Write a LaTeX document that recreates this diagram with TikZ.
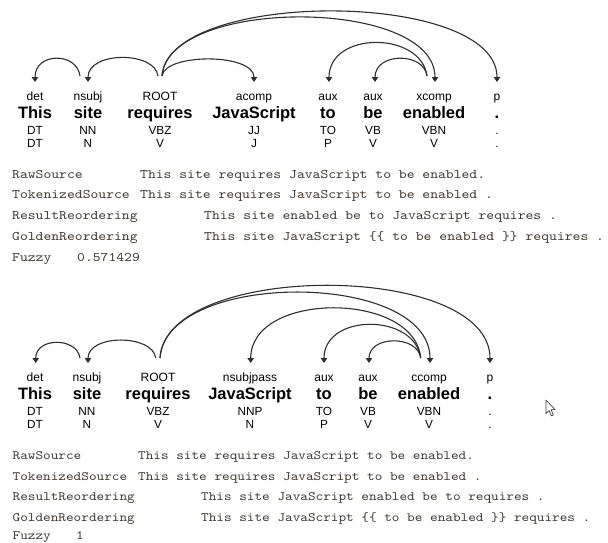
\documentclass[tikz,border=0pt]{standalone}
\usepackage{fontspec}
\setmainfont{Liberation Sans}
\newfontfamily\monof{lmmono10-regular.otf}[FakeStretch=1.14]
\usetikzlibrary{arrows.meta}
\definecolor{arcc}{HTML}{2E2E2E}
\definecolor{monoc}{HTML}{3E3630}
\begin{document}
\begin{tikzpicture}[x=1pt,y=-1pt,
  dep/.style={draw=arcc, line width=1.1pt, -{Triangle[width=6.5pt,length=5pt]}},
  lab/.style={anchor=base, inner sep=0pt, font=\fontsize{12}{14}\selectfont},
  wrd/.style={anchor=base, inner sep=0pt, font=\fontsize{16.5}{18}\selectfont\bfseries},
  tag/.style={anchor=base, inner sep=0pt, font=\fontsize{11.8}{14}\selectfont},
  monotop/.style={anchor=base west, inner sep=0pt, font=\fontsize{13.1}{15}\selectfont\monof, text=monoc},
  monobot/.style={anchor=base west, inner sep=0pt, font=\fontsize{12.75}{15}\selectfont\monof, text=monoc}]
\useasboundingbox (0,0) rectangle (608,542);

% ---------------- top parse ----------------
\foreach \i/\x/\w/\l/\p/\q in {1/35/This/det/DT/DT, 2/88/site/nsubj/NN/N, 3/160/requires/ROOT/VBZ/V,
  4/254/JavaScript/acomp/JJ/J, 5/328/to/aux/TO/P, 6/373/be/aux/VB/V, 7/434/enabled/xcomp/VBN/V, 8/497/./p/./.}{
  \node[lab] (tl\i) at (\x,100) {\l};
  \node[wrd] (tw\i) at (\x,118) {\w};
  \node[tag] (tp\i) at (\x,134) {\p};
  \node[tag] (tq\i) at (\x,147) {\q};
}
\coordinate (tsiteo) at (80,76);
\coordinate (tthisi) at (35,82);
\coordinate (treqa) at (158,76);
\coordinate (tsitei) at (88,82);
\coordinate (treqb) at (162,76);
\coordinate (tjsi) at (254,82);
\coordinate (teni) at (435,82);
\coordinate (tdoti) at (497,82);
\coordinate (teno) at (427,76);
\coordinate (ttoi) at (329,82);
\coordinate (tbei) at (375,82);

\draw[dep] (tsiteo) .. controls +(-3,-24) and +(0,-30) .. (tthisi);
\draw[dep] (treqa) .. controls +(-3,-25) and +(0,-31) .. (tsitei);
\draw[dep] (treqb) .. controls +(3,-23) and +(0,-29) .. (tjsi);
\draw[dep] (treqb) .. controls +(6,-79) and +(0,-85) .. (teni);
\draw[dep] (treqb) .. controls +(6,-87) and +(0,-93) .. (tdoti);
\draw[dep] (teno) .. controls +(-6,-45) and +(0,-51) .. (ttoi);
\draw[dep] (teno) .. controls +(-3,-24) and +(0,-30) .. (tbei);

% ---------------- top text block ----------------
\node[monotop] (r1a) at (12,178) {RawSource};
\node[monotop] (r1b) at (140,178) {This site requires JavaScript to be enabled.};
\node[monotop] (r2a) at (12,198.8) {TokenizedSource};
\node[monotop] (r2b) at (140,198.8) {This site requires JavaScript to be enabled .};
\node[monotop] (r3a) at (12,219.6) {ResultReordering};
\node[monotop] (r3b) at (204,219.6) {This site enabled be to JavaScript requires .};
\node[monotop] (r4a) at (12,240.4) {GoldenReordering};
\node[monotop] (r4b) at (204,240.4) {This site JavaScript \{\{ to be enabled \}\} requires .};
\node[monotop] (r5a) at (12,261.2) {Fuzzy};
\node[monotop] (r5b) at (77,261.2) {0.571429};

% ---------------- bottom parse ----------------
\foreach \i/\x/\w/\l/\p/\q in {1/35/This/det/DT/DT, 2/87/site/nsubj/NN/N, 3/158/requires/ROOT/VBZ/V,
  4/250/JavaScript/nsubjpass/NNP/N, 5/324/to/aux/TO/P, 6/368/be/aux/VB/V, 7/429/enabled/ccomp/VBN/V, 8/490/./p/./.}{
  \node[lab] (bl\i) at (\x,381) {\l};
  \node[wrd] (bw\i) at (\x,399) {\w};
  \node[tag] (bp\i) at (\x,415) {\p};
  \node[tag] (bq\i) at (\x,428) {\q};
}
\coordinate (bsiteo) at (80,358);
\coordinate (bthisi) at (35.7,363);
\coordinate (breqa) at (155.7,358);
\coordinate (bsitei) at (88,363);
\coordinate (breqb) at (160,358);
\coordinate (beni) at (430,363);
\coordinate (bdoti) at (490,363);
\coordinate (beno) at (420.7,358);
\coordinate (bjsi) at (250.7,363);
\coordinate (btoi) at (324,363);
\coordinate (bbei) at (369,363);

\draw[dep] (bsiteo) .. controls +(-3,-21) and +(0,-26) .. (bthisi);
\draw[dep] (breqa) .. controls +(-3,-24) and +(0,-29) .. (bsitei);
\draw[dep] (breqb) .. controls +(6,-88) and +(0,-93) .. (beni);
\draw[dep] (breqb) .. controls +(6,-97) and +(0,-102) .. (bdoti);
\draw[dep] (beno) .. controls +(-6,-67) and +(0,-72) .. (bjsi);
\draw[dep] (beno) .. controls +(-6,-45) and +(0,-50) .. (btoi);
\draw[dep] (beno) .. controls +(-3,-23) and +(0,-28) .. (bbei);

% ---------------- bottom text block ----------------
\node[monobot] (s1a) at (12.5,459.5) {RawSource};
\node[monobot] (s1b) at (138,459.5) {This site requires JavaScript to be enabled.};
\node[monobot] (s2a) at (12.5,480) {TokenizedSource};
\node[monobot] (s2b) at (138,480) {This site requires JavaScript to be enabled .};
\node[monobot] (s3a) at (12.5,500.5) {ResultReordering};
\node[monobot] (s3b) at (201,500.5) {This site JavaScript enabled be to requires .};
\node[monobot] (s4a) at (12.5,521) {GoldenReordering};
\node[monobot] (s4b) at (201,521) {This site JavaScript \{\{ to be enabled \}\} requires .};
\node[monobot] (s5a) at (12.5,539) {Fuzzy};
\node[monobot] (s5b) at (76,539) {1};

% ---------------- mouse pointer ----------------
\filldraw[fill=white, draw=black!75, line width=0.7pt, line join=round]
  (546,400) -- (546,413.5) -- (549,410.6) -- (551.4,415.8) -- (553.4,414.9) -- (551.1,409.8) -- (555.2,409.8) -- cycle;
\end{tikzpicture}
\end{document}
